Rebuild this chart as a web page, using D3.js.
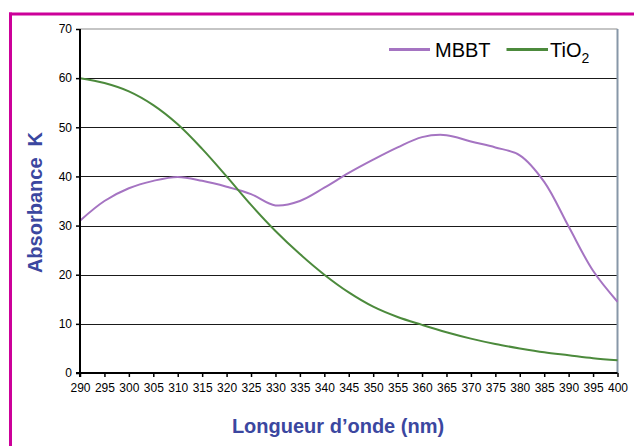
<!DOCTYPE html>
<html>
<head>
<meta charset="utf-8">
<script src="https://cdn.jsdelivr.net/npm/d3@7"></script>
<style>
  html, body { margin: 0; padding: 0; background: #fff; }
  svg { display: block; font-family: "Liberation Sans", Arial, Helvetica, sans-serif; }
</style>
</head>
<body>
<svg id="chart" width="634" height="446"></svg>
<script>
const wavelengths = [290, 295, 300, 305, 310, 315, 320, 325, 330, 335, 340, 345, 350, 355, 360, 365, 370, 375, 380, 385, 390, 395, 400];
const mbbt = [31.0, 35.0, 37.6, 39.1, 39.9, 39.1, 37.9, 36.4, 34.1, 35.0, 37.7, 40.7, 43.4, 45.9, 48.0, 48.4, 47.1, 45.9, 44.3, 38.9, 29.8, 20.8, 14.5];
const tio2 = [60.0, 59.0, 57.3, 54.5, 50.6, 45.6, 40.0, 34.2, 28.9, 24.2, 20.0, 16.4, 13.5, 11.4, 9.8, 8.3, 7.0, 5.9, 5.0, 4.2, 3.6, 3.0, 2.6];
const xTicks = [290, 295, 300, 305, 310, 315, 320, 325, 330, 335, 340, 345, 350, 355, 360, 365, 370, 375, 380, 385, 390, 395, 400];
const yTicks = [0, 10, 20, 30, 40, 50, 60, 70];
const seriesNames = ["MBBT", "TiO2"];
const seriesColors = ["#a574c2", "#4c8a3c"];

const svg = d3.select("#chart");
const x = d3.scaleLinear().domain([290, 400]).range([80, 617.5]);
const y = d3.scaleLinear().domain([0, 70]).range([373, 29]);
const titleBlue = "#3b47a0";

// magenta frame (top and left)
svg.append("line").attr("x1", 9).attr("x2", 634).attr("y1", 14).attr("y2", 14)
  .attr("stroke", "#cc0099").attr("stroke-width", 3);
svg.append("line").attr("x1", 10.5).attr("x2", 10.5).attr("y1", 12.5).attr("y2", 446)
  .attr("stroke", "#cc0099").attr("stroke-width", 3);

// gridlines
svg.append("g").selectAll("line").data(yTicks.filter(d => d > 0 && d < 70)).join("line")
  .attr("x1", x(290)).attr("x2", x(400))
  .attr("y1", d => Math.round(y(d)) + 0.5).attr("y2", d => Math.round(y(d)) + 0.5)
  .attr("stroke", "#1a1a1a").attr("stroke-width", 1.1);

// plot area top and right border
svg.append("line").attr("x1", x(290)).attr("x2", x(400)).attr("y1", y(70)).attr("y2", y(70))
  .attr("stroke", "#8c8c8c").attr("stroke-width", 1.2);
svg.append("line").attr("x1", x(400)).attr("x2", x(400)).attr("y1", y(70)).attr("y2", y(0))
  .attr("stroke", "#8797a8").attr("stroke-width", 2);

// lines
const line = d3.line().curve(d3.curveCatmullRom.alpha(0.5));
const seriesData = [mbbt, tio2];
seriesData.forEach((vals, i) => {
  svg.append("path")
    .attr("d", line(wavelengths.map((w, j) => [x(w), y(vals[j])])))
    .attr("fill", "none").attr("stroke", seriesColors[i]).attr("stroke-width", 2);
});

// axes
const xAxis = d3.axisBottom(x).tickValues(xTicks).tickSize(4).tickPadding(6).tickFormat(d3.format("d"));
const gx = svg.append("g").attr("transform", `translate(0,${y(0)})`).call(xAxis);
gx.select(".domain").attr("stroke", "#000").attr("stroke-width", 2).attr("d", `M${x(290) - 4},0H${x(400)}`);
gx.selectAll(".tick line").attr("stroke", "#000").attr("stroke-width", 1.5);
gx.selectAll(".tick text").attr("font-size", 12).attr("fill", "#000")
  .attr("font-family", "'Liberation Sans', Arial, sans-serif");

const yAxis = d3.axisLeft(y).tickValues(yTicks).tickSize(4).tickPadding(4);
const gy = svg.append("g").attr("transform", `translate(${x(290)},0)`).call(yAxis);
gy.select(".domain").attr("stroke", "#000").attr("stroke-width", 2).attr("d", `M0,${y(70)}V${y(0) + 4}`);
gy.selectAll(".tick line").attr("stroke", "#000").attr("stroke-width", 1.5);
gy.selectAll(".tick text").attr("font-size", 12).attr("fill", "#000")
  .attr("font-family", "'Liberation Sans', Arial, sans-serif");

// axis titles
svg.append("text")
  .attr("x", 338).attr("y", 433)
  .attr("text-anchor", "middle")
  .attr("font-size", 20).attr("font-weight", "bold").attr("fill", titleBlue)
  .text("Longueur d’onde (nm)");

svg.append("text")
  .attr("transform", "translate(42,202.5) rotate(-90)")
  .attr("text-anchor", "middle")
  .style("white-space", "pre")
  .attr("font-size", 20).attr("font-weight", "bold").attr("fill", titleBlue)
  .text("Absorbance  K");

// legend
const legend = svg.append("g");
legend.append("line").attr("x1", 389).attr("x2", 430).attr("y1", 49.5).attr("y2", 49.5)
  .attr("stroke", seriesColors[0]).attr("stroke-width", 3);
legend.append("text").attr("x", 435).attr("y", 57).attr("font-size", 20).attr("fill", "#000")
  .text(seriesNames[0]);
legend.append("line").attr("x1", 506.5).attr("x2", 548).attr("y1", 49.5).attr("y2", 49.5)
  .attr("stroke", seriesColors[1]).attr("stroke-width", 3);
const t2 = legend.append("text").attr("x", 550).attr("y", 57).attr("font-size", 20).attr("fill", "#000");
t2.append("tspan").text(seriesNames[1].slice(0, 3));
t2.append("tspan").attr("font-size", 14).attr("dy", 6).text(seriesNames[1].slice(3));
</script>
</body>
</html>
